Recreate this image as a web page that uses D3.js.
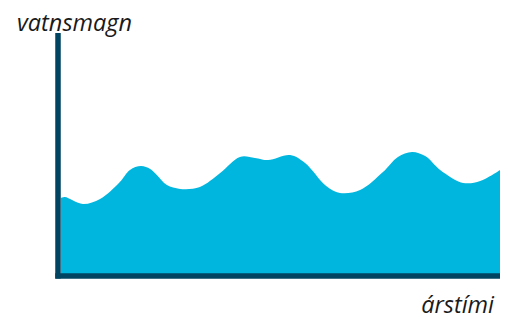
<!DOCTYPE html>
<html>
<head>
<meta charset="utf-8">
<script src="https://cdn.jsdelivr.net/npm/d3@7"></script>
<style>
html,body{margin:0;padding:0;background:#fff;}
svg{display:block;}
</style>
</head>
<body>
<svg id="chart" width="508" height="319"></svg>
<script>
// time (0-100) along the x axis
const timePoints = [0.2, 1.1, 5.2, 9.1, 13.6, 15.9, 18.4, 20.5, 22, 24.3, 27.3, 31.8, 36.4, 40.9, 44.3, 47.3, 52.3, 55.7, 60.5, 63.6, 68.2, 73.4, 76.8, 80, 83, 86.4, 91.6, 95.5, 100];
// water amount (0-100)
const waterValues = [32.5, 32.9, 30, 32.1, 39.2, 44.2, 45.8, 44.6, 42.1, 37.9, 36.3, 37.1, 42.9, 49.6, 49.2, 48.3, 50.4, 47.1, 37.5, 34.6, 35.8, 43.3, 49.6, 51.7, 50, 44.2, 38.8, 39.6, 44.2];
const yLabel = "vatnsmagn";
const xLabel = "árstími";

const svg = d3.select("#chart");
const x = d3.scaleLinear().domain([0, 100]).range([60, 500]);
const y = d3.scaleLinear().domain([0, 100]).range([276, 36]);

const data = timePoints.map((t, i) => ({t, v: waterValues[i]}));

const area = d3.area()
  .x(d => x(d.t))
  .y0(y(0))
  .y1(d => y(d.v))
  .curve(d3.curveCatmullRom.alpha(0.5));

svg.append("path")
  .datum(data)
  .attr("d", area)
  .attr("fill", "#00b6de");

const axisColor = "#004461";
// y axis
svg.append("line")
  .attr("x1", x(0) - 2).attr("x2", x(0) - 2)
  .attr("y1", y(100) - 3).attr("y2", y(0) + 2.5)
  .attr("stroke", axisColor).attr("stroke-width", 5.5);
// x axis
svg.append("line")
  .attr("x1", x(0) - 4.7).attr("x2", x(100))
  .attr("y1", y(0)).attr("y2", y(0))
  .attr("stroke", axisColor).attr("stroke-width", 5.5);

svg.append("text")
  .attr("x", 17).attr("y", 31)
  .attr("font-family", "'Open Sans', sans-serif")
  .attr("font-style", "italic")
  .attr("font-size", 23.5)
  .attr("fill", "#1a1a1a")
  .text(yLabel);

svg.append("text")
  .attr("x", 494).attr("y", 313)
  .attr("text-anchor", "end")
  .attr("font-family", "'Open Sans', sans-serif")
  .attr("font-style", "italic")
  .attr("font-size", 23.5)
  .attr("fill", "#1a1a1a")
  .text(xLabel);
</script>
</body>
</html>
